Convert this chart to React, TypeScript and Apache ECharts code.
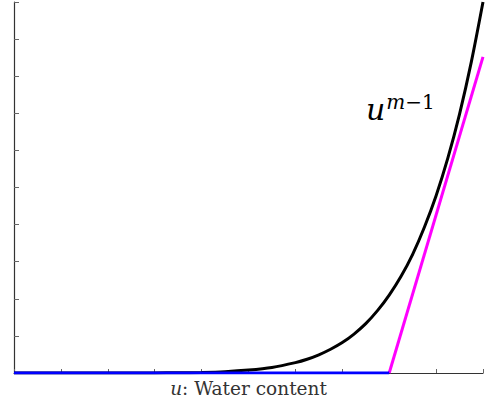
import React, { useEffect, useRef } from "react";
import * as echarts from "echarts";

// water content u (x) and curve values
const curveU = [0, 0.1, 0.2, 0.3, 0.35, 0.4, 0.45, 0.5, 0.55, 0.6, 0.625, 0.65, 0.675, 0.7, 0.725, 0.75, 0.775, 0.8, 0.825, 0.85, 0.875, 0.9, 0.925, 0.95, 0.975, 1.0];
const curveV = [0, 0, 0, 0.0002, 0.0006, 0.0016, 0.0037, 0.008, 0.015, 0.028, 0.037, 0.049, 0.064, 0.082, 0.105, 0.133, 0.168, 0.21, 0.26, 0.32, 0.393, 0.478, 0.579, 0.698, 0.838, 1.0];

const magentaU = [0.8, 1.0];
const magentaV = [0, 0.852];

const blueU = [0, 0.8];
const blueV = [0, 0];

const xTitle = "{i|u}: Water content";

export default function App() {
  const ref = useRef<HTMLDivElement>(null);
  useEffect(() => {
    document.body.style.margin = "0";
    const chart = echarts.init(ref.current!, null, { renderer: "svg" });
    const serif = "'DejaVu Serif', 'Liberation Serif', serif";
    chart.setOption({
      animation: false,
      backgroundColor: "#ffffff",
      grid: { left: 14, right: 2, top: 2, bottom: 34 },
      xAxis: {
        type: "value",
        min: 0,
        max: 1,
        interval: 0.1,
        name: xTitle,
        nameLocation: "middle",
        nameGap: 6,
        nameTextStyle: {
          fontFamily: serif,
          fontSize: 18.5,
          color: "#333",
          rich: { i: { fontStyle: "italic", fontFamily: serif, fontSize: 18.5, color: "#333" } },
        },
        axisLine: { show: true, lineStyle: { color: "#333", width: 1.2 } },
        axisTick: { show: true, inside: true, length: 4, lineStyle: { color: "#666", width: 1 } },
        axisLabel: { show: false },
        splitLine: { show: false },
      },
      yAxis: {
        type: "value",
        min: 0,
        max: 1,
        interval: 0.1,
        axisLine: { show: true, lineStyle: { color: "#333", width: 1.2 } },
        axisTick: { show: true, inside: true, length: 5, lineStyle: { color: "#666", width: 1 } },
        axisLabel: { show: false },
        splitLine: { show: false },
      },
      series: [
        {
          type: "line",
          data: curveU.map((u, i) => [u, curveV[i]]),
          smooth: 0.3,
          showSymbol: false,
          lineStyle: { color: "#000000", width: 3 },
          z: 3,
        },
        {
          type: "line",
          data: magentaU.map((u, i) => [u, magentaV[i]]),
          showSymbol: false,
          lineStyle: { color: "#ff00ff", width: 3 },
          z: 4,
        },
        {
          type: "line",
          data: blueU.map((u, i) => [u, blueV[i]]),
          showSymbol: false,
          lineStyle: { color: "#0000ff", width: 3 },
          z: 5,
        },
      ],
      graphic: [
        {
          type: "text",
          left: 366,
          top: 92,
          style: {
            text: "{u|u}{m|m}{s|−1}",
            rich: {
              u: { fontFamily: serif, fontStyle: "italic", fontSize: 30, color: "#111", verticalAlign: "bottom" },
              m: { fontFamily: serif, fontStyle: "italic", fontSize: 20, color: "#111", verticalAlign: "top", padding: [0, 0, 12, 1] },
              s: { fontFamily: serif, fontSize: 20, color: "#111", verticalAlign: "top", padding: [0, 0, 12, 0] },
            },
          },
        },
      ],
    });
    return () => chart.dispose();
  }, []);
  return <div ref={ref} style={{ width: 485, height: 407 }} />;
}
